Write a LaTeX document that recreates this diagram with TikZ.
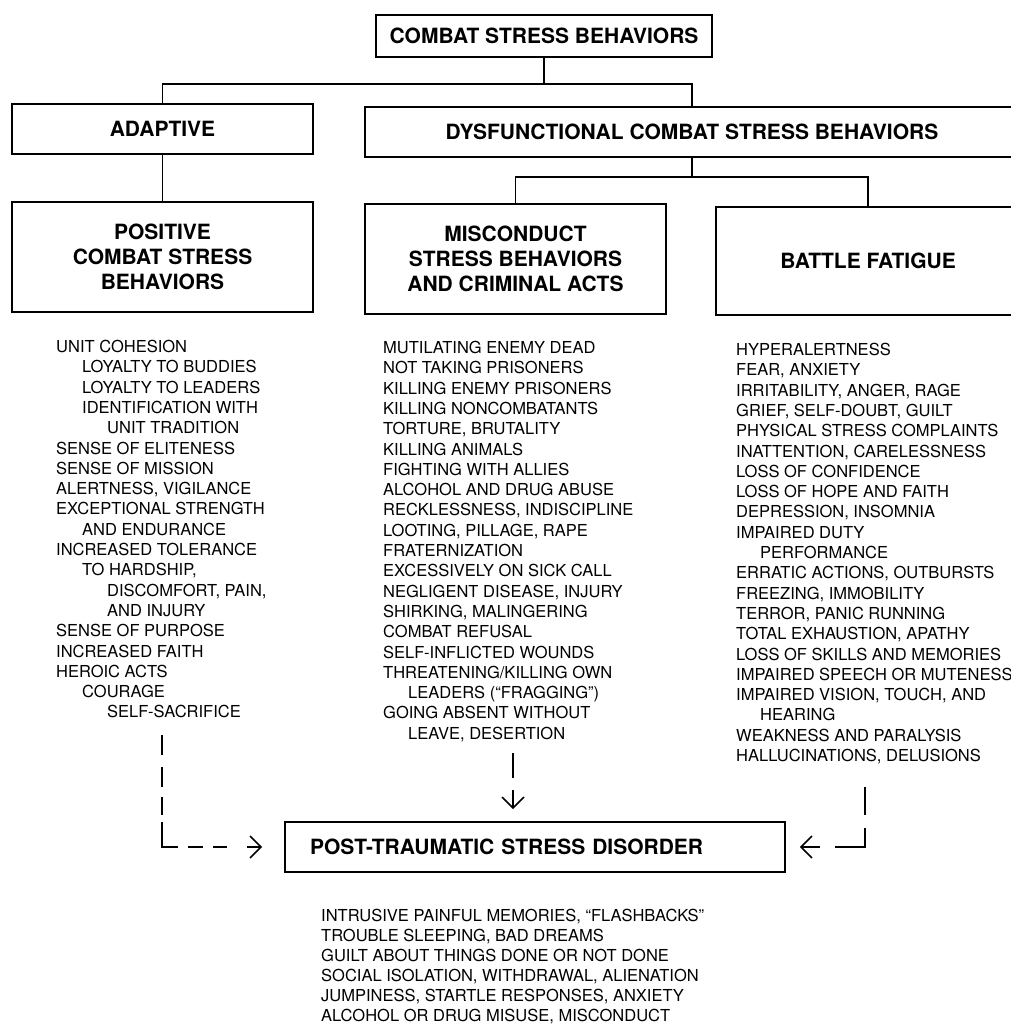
\documentclass[tikz,border=0pt]{standalone}
\usepackage{fontspec}
\setmainfont{TeX Gyre Heros}
\usepackage{tikz}
\usetikzlibrary{arrows.meta}

\begin{document}
\begin{tikzpicture}[
x=1pt,y=-1pt,
MyBoxes/.style={draw=black,line width=1.8pt,inner sep=0pt,align=center,font=\bfseries\fontsize{21}{25}\selectfont},
MyLists/.style={anchor=north west,inner sep=0pt,align=left,font=\fontsize{16.5}{20.3}\selectfont},
Links/.style={draw=black,line width=1.5pt},
DashLinks/.style={draw=black,line width=1.5pt,-{Straight Barb[length=11pt,width=22pt]}},
every node/.style={scale=1}
]
\useasboundingbox (0,0) rectangle (1011,1025);

% boxes
\node[MyBoxes,minimum width=336pt,minimum height=42pt] (CSB) at (544,36) {COMBAT STRESS BEHAVIORS};
\node[MyBoxes,minimum width=301pt,minimum height=50pt] (ADA) at (162.5,129) {ADAPTIVE};
\node[MyBoxes,minimum width=654pt,minimum height=50pt] (DYS) at (692,132) {DYSFUNCTIONAL COMBAT STRESS BEHAVIORS};
\node[MyBoxes,minimum width=301pt,minimum height=110pt] (POS) at (162.5,257) {POSITIVE\\COMBAT STRESS\\BEHAVIORS};
\node[MyBoxes,minimum width=301pt,minimum height=110pt] (MIS) at (515.5,259) {MISCONDUCT\\STRESS BEHAVIORS\\AND CRIMINAL ACTS};
\node[MyBoxes,minimum width=304pt,minimum height=108pt] (BF) at (868,261) {BATTLE FATIGUE};
\node[MyBoxes,text width=450pt,inner xsep=25pt,minimum height=50pt,align=left] (PTSD) at (535,847) {POST-TRAUMATIC STRESS DISORDER};

% tree
\draw[Links] (CSB.south) -- ++(0,26) coordinate (J1);
\draw[Links] (ADA.north) |- (J1) -| (DYS.north);
\draw[Links] (ADA.south) -- (POS.north);
\draw[Links] (DYS.south) -- ++(0,19) coordinate (J2);
\draw[Links] (MIS.north) |- (J2) -| (BF.north);

% lists
\node[MyLists] (PosList) at (56,340) {UNIT COHESION\\
\hspace*{26pt}LOYALTY TO BUDDIES\\
\hspace*{26pt}LOYALTY TO LEADERS\\
\hspace*{26pt}IDENTIFICATION WITH\\
\hspace*{51pt}UNIT TRADITION\\
SENSE OF ELITENESS\\
SENSE OF MISSION\\
ALERTNESS, VIGILANCE\\
EXCEPTIONAL STRENGTH\\
\hspace*{26pt}AND ENDURANCE\\
INCREASED TOLERANCE\\
\hspace*{26pt}TO HARDSHIP,\\
\hspace*{51pt}DISCOMFORT, PAIN,\\
\hspace*{51pt}AND INJURY\\
SENSE OF PURPOSE\\
INCREASED FAITH\\
HEROIC ACTS\\
\hspace*{26pt}COURAGE\\
\hspace*{51pt}SELF-SACRIFICE};

\node[MyLists] (MisList) at (383,341) {MUTILATING ENEMY DEAD\\
NOT TAKING PRISONERS\\
KILLING ENEMY PRISONERS\\
KILLING NONCOMBATANTS\\
TORTURE, BRUTALITY\\
KILLING ANIMALS\\
FIGHTING WITH ALLIES\\
ALCOHOL AND DRUG ABUSE\\
RECKLESSNESS, INDISCIPLINE\\
LOOTING, PILLAGE, RAPE\\
FRATERNIZATION\\
EXCESSIVELY ON SICK CALL\\
NEGLIGENT DISEASE, INJURY\\
SHIRKING, MALINGERING\\
COMBAT REFUSAL\\
SELF-INFLICTED WOUNDS\\
THREATENING/KILLING OWN\\
\hspace*{25pt}LEADERS (“FRAGGING”)\\
GOING ABSENT WITHOUT\\
\hspace*{25pt}LEAVE, DESERTION};

\node[MyLists] (BfList) at (736,343) {HYPERALERTNESS\\
FEAR, ANXIETY\\
IRRITABILITY, ANGER, RAGE\\
GRIEF, SELF-DOUBT, GUILT\\
PHYSICAL STRESS COMPLAINTS\\
INATTENTION, CARELESSNESS\\
LOSS OF CONFIDENCE\\
LOSS OF HOPE AND FAITH\\
DEPRESSION, INSOMNIA\\
IMPAIRED DUTY\\
\hspace*{24pt}PERFORMANCE\\
ERRATIC ACTIONS, OUTBURSTS\\
FREEZING, IMMOBILITY\\
TERROR, PANIC RUNNING\\
TOTAL EXHAUSTION, APATHY\\
LOSS OF SKILLS AND MEMORIES\\
IMPAIRED SPEECH OR MUTENESS\\
IMPAIRED VISION, TOUCH, AND\\
\hspace*{24pt}HEARING\\
WEAKNESS AND PARALYSIS\\
HALLUCINATIONS, DELUSIONS};

%\node[MyLists] (PtsdList) at (321,911) {...};
\node[MyLists,font=\fontsize{16.5}{20}\selectfont] (PtsdList) at (321,909) {INTRUSIVE PAINFUL MEMORIES, “FLASHBACKS”\\
TROUBLE SLEEPING, BAD DREAMS\\
GUILT ABOUT THINGS DONE OR NOT DONE\\
SOCIAL ISOLATION, WITHDRAWAL, ALIENATION\\
JUMPINESS, STARTLE RESPONSES, ANXIETY\\
ALCOHOL OR DRUG MISUSE, MISCONDUCT};

% arrows into PTSD
\coordinate (PosEnd) at (162,735);
\coordinate (MisEnd) at (513,753);
\coordinate (BfEnd) at (865,787);

\draw[DashLinks,dash pattern=on 20pt off 12pt on 20pt off 10pt on 18pt off 7pt on 41pt off 10pt on 15pt off 10pt on 14pt off 20pt,shorten >=22pt] (PosEnd) |- (PTSD.west);
\draw[DashLinks,dash pattern=on 25pt off 12pt,shorten >=12pt] (MisEnd) -- (MisEnd |- PTSD.north);
\draw[DashLinks,dash pattern=on 28pt off 13pt on 49pt off 15pt,shorten >=14pt] (BfEnd) |- (PTSD.east);

\end{tikzpicture}
\end{document}
